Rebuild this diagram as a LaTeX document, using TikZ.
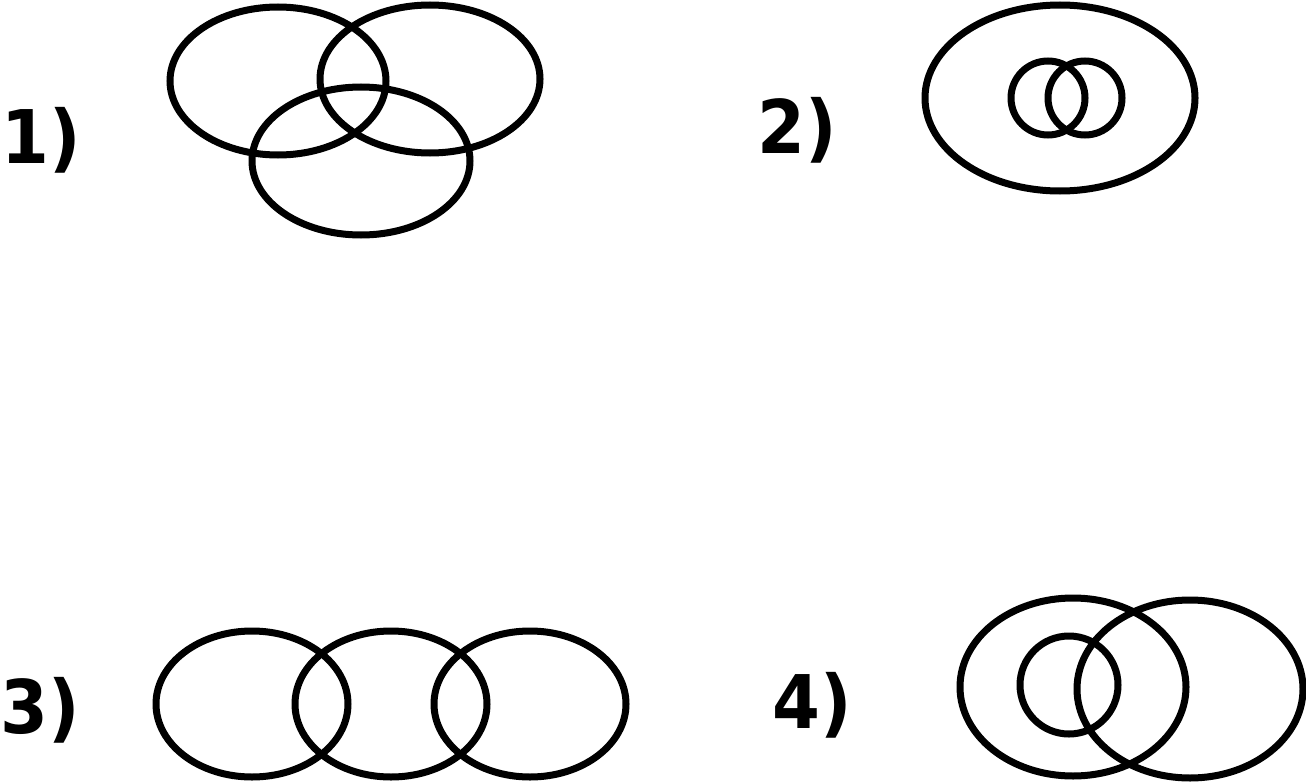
\documentclass[tikz,border=0pt]{standalone}
\usepackage{fontspec}
\setmainfont{DejaVu Sans}
\begin{document}
\begin{tikzpicture}[x=1pt,y=-1pt,
  ring/.style={draw=black,line width=7pt},
  lbl/.style={font=\fontsize{74}{76}\selectfont\bfseries,anchor=base west,inner sep=0pt}]
\useasboundingbox[fill=white] (0,0) rectangle (1306,784);
% panel 1
\draw[ring] (278,81) ellipse [x radius=108, y radius=74];
\draw[ring] (430,79) ellipse [x radius=110, y radius=74];
\draw[ring] (361,161) ellipse [x radius=109, y radius=74];
\node[lbl] (l1) at (1,163) {\scalebox{0.93}[1]{1)}};
% panel 2
\draw[ring] (1060,98) ellipse [x radius=135, y radius=93];
\draw[ring] (1048,98) circle [radius=37];
\draw[ring] (1085,98) circle [radius=37];
\node[lbl] (l2) at (757,153) {\scalebox{0.93}[1]{2)}};
% panel 3
\draw[ring] (252,704) ellipse [x radius=96, y radius=73];
\draw[ring] (391,704) ellipse [x radius=96, y radius=73];
\draw[ring] (530,704) ellipse [x radius=96, y radius=73];
\node[lbl] (l3) at (0,733) {\scalebox{0.93}[1]{3)}};
% panel 4
\draw[ring] (1073,687) ellipse [x radius=113, y radius=89];
\draw[ring] (1190,689) ellipse [x radius=113, y radius=89];
\draw[ring] (1069,685) circle [radius=49];
\node[lbl] (l4) at (772,728) {\scalebox{0.93}[1]{4)}};
\end{tikzpicture}
\end{document}
